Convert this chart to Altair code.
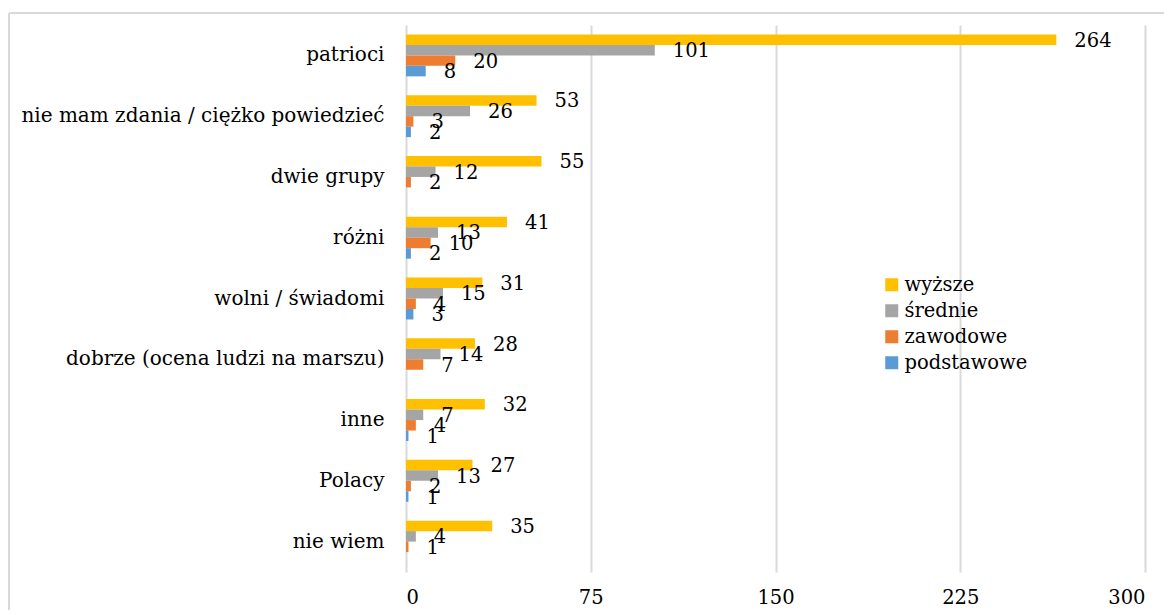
import altair as alt
import pandas as pd

categories = ["patrioci", "nie mam zdania / ciężko powiedzieć", "dwie grupy", "różni",
              "wolni / świadomi", "dobrze (ocena ludzi na marszu)", "inne", "Polacy", "nie wiem"]
series = ["wyższe", "średnie", "zawodowe", "podstawowe"]
wyzsze = [264, 53, 55, 41, 31, 28, 32, 27, 35]
srednie = [101, 26, 12, 13, 15, 14, 7, 13, 4]
zawodowe = [20, 3, 2, 10, 4, 7, 4, 2, 1]
podstawowe = [8, 2, None, 2, 3, None, 1, 1, None]
colors = ["#FFC000", "#A5A5A5", "#ED7D31", "#5B9BD5"]
x_ticks = [0, 75, 150, 225, 300]

rows = []
for s, vals in zip(series, [wyzsze, srednie, zawodowe, podstawowe]):
    for c, v in zip(categories, vals):
        if v is not None:
            rows.append({"kategoria": c, "seria": s, "wartosc": v})
df = pd.DataFrame(rows)

FONT = "DejaVu Serif"
FS = 19.5

y_enc = alt.Y("kategoria:N", sort=categories, title=None,
              scale=alt.Scale(paddingInner=0.31, paddingOuter=0.155),
              axis=alt.Axis(labelFont=FONT, labelFontSize=20, labelColor="#000000",
                            labelPadding=22, ticks=False, domain=False, grid=False,
                            labelLimit=600))
x_enc = alt.X("wartosc:Q", title=None,
              scale=alt.Scale(domain=[0, 300], nice=False),
              axis=alt.Axis(values=x_ticks, labelFont=FONT, labelFontSize=FS,
                            labelColor="#000000", labelPadding=16, ticks=False,
                            domain=False, grid=True, gridColor="#D9D9D9", gridWidth=2))
yoff = alt.YOffset("seria:N", sort=series)
color = alt.Color("seria:N", sort=series,
                  scale=alt.Scale(domain=series, range=colors),
                  legend=alt.Legend(title=None, orient="none", legendX=476, legendY=250,
                                    symbolType="square", symbolSize=169,
                                    symbolStrokeWidth=0, labelFont=FONT,
                                    labelFontSize=FS, labelColor="#000000",
                                    rowPadding=5, labelOffset=3))

bars = alt.Chart(df).mark_bar().encode(x=x_enc, y=y_enc, yOffset=yoff, color=color)
labels = alt.Chart(df).mark_text(align="left", baseline="middle", dx=18, dy=1,
                                 font=FONT, fontSize=FS, color="#000000").encode(
    x="wartosc:Q", y=alt.Y("kategoria:N", sort=categories), yOffset=yoff,
    text="wartosc:Q")

border_top = alt.Chart(pd.DataFrame({"k": [0]})).mark_rule(color="#D9D9D9", strokeWidth=2).encode(
    x=alt.value(-397), x2=alt.value(800), y=alt.value(-12))
border_left = alt.Chart(pd.DataFrame({"k": [0]})).mark_rule(color="#D9D9D9", strokeWidth=2).encode(
    x=alt.value(-397), y=alt.value(-12), y2=alt.value(620))

chart = alt.layer(bars, labels, border_top, border_left).properties(
    width=739, height=547,
    autosize=alt.AutoSizeParams(type="none"),
    padding={"left": 398, "top": 17, "right": 19, "bottom": 38},
).configure_view(stroke=None)

chart.save("out.html", embed_options={"renderer": "svg", "actions": False})
